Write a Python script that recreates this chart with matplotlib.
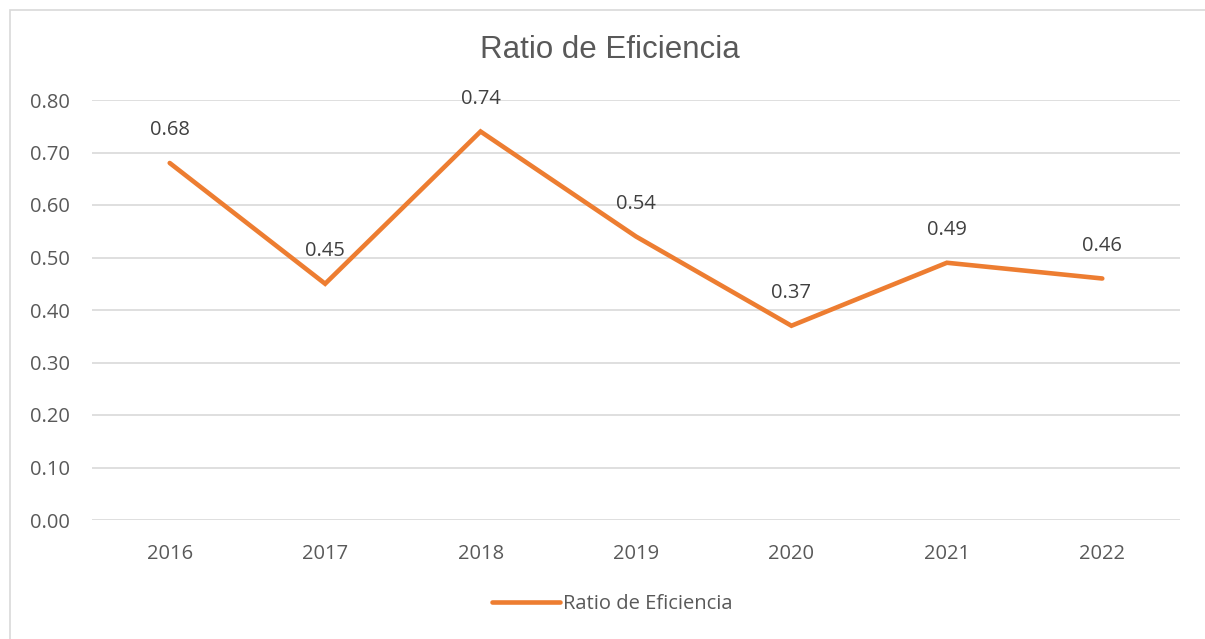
import matplotlib
matplotlib.use("Agg")
import matplotlib.pyplot as plt
from matplotlib.patches import Rectangle
from matplotlib.lines import Line2D

years = ["2016", "2017", "2018", "2019", "2020", "2021", "2022"]
values = [0.68, 0.45, 0.74, 0.54, 0.37, 0.49, 0.46]
yticks = [0.0, 0.1, 0.2, 0.3, 0.4, 0.5, 0.6, 0.7, 0.8]
series_name = "Ratio de Eficiencia"
title = "Ratio de Eficiencia"

W, H = 1205, 639
fig = plt.figure(figsize=(W / 100, H / 100), dpi=100)
fig.patch.set_facecolor("white")

# outer chart border (extends beyond right/bottom edge)
fig.patches.append(Rectangle((10 / W, -0.05), 1.2, (H - 10) / H + 0.05,
                             transform=fig.transFigure, fill=False,
                             edgecolor="#D9D9D9", linewidth=1.2))

left, right, top, bottom = 92, 1180, 100, 520
ax = fig.add_axes([left / W, 1 - bottom / H, (right - left) / W, (bottom - top) / H])
ax.set_facecolor("none")

color = "#ED7D31"
x = list(range(len(years)))
ax.plot(x, values, color=color, linewidth=3.3, solid_capstyle="round",
        solid_joinstyle="miter", zorder=3)

FS = 14.5
for xi, v in zip(x, values):
    ax.annotate(f"{v:.2f}", (xi, v), xytext=(0, 23.5), textcoords="offset points",
                ha="center", va="center", fontsize=FS, color="#404040",
                family="Open Sans", zorder=4)

ax.set_xlim(-0.5, len(years) - 0.5)
ax.set_ylim(0, 0.8)
ax.set_yticks(yticks)
ax.set_yticklabels([f"{t:.2f}" for t in yticks])
ax.set_xticks(x)
ax.set_xticklabels(years)
ax.grid(axis="y", color="#D9D9D9", linewidth=1.2)
ax.set_axisbelow(True)
for s in ax.spines.values():
    s.set_visible(False)
ax.tick_params(length=0, labelsize=FS, labelcolor="#595959")
ax.tick_params(axis="x", pad=17)
ax.tick_params(axis="y", pad=16)
for lbl in ax.get_xticklabels() + ax.get_yticklabels():
    lbl.set_family("Open Sans")

fig.text(610 / W, 1 - 50 / H, title, ha="center", va="center", fontsize=22.5,
         color="#595959", family="Liberation Sans")

handle = Line2D([], [], color=color, linewidth=3.3, solid_capstyle="round")
fig.legend([handle], [series_name], loc="center", bbox_to_anchor=(612 / W, 1 - 604 / H),
           frameon=False, handlelength=3.4, handletextpad=0.15,
           prop={"family": "Open Sans", "size": FS}, labelcolor="#595959")

fig.savefig("out.png", dpi=100, facecolor="white")
